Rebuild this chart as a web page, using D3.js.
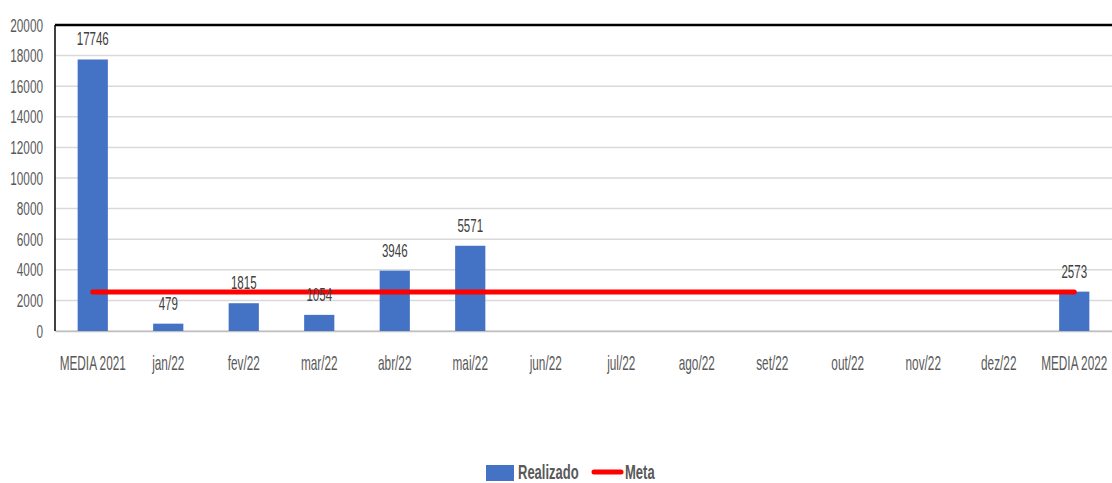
<!DOCTYPE html>
<html>
<head>
<meta charset="utf-8">
<script src="https://cdn.jsdelivr.net/npm/d3@7"></script>
<style>
  body { margin: 0; background: #fff; }
  text { font-family: "Liberation Sans", Arial, sans-serif; }
</style>
</head>
<body>
<svg id="chart" width="1112" height="483"></svg>
<script>
// data
var categories = ["MEDIA 2021", "jan/22", "fev/22", "mar/22", "abr/22", "mai/22", "jun/22",
  "jul/22", "ago/22", "set/22", "out/22", "nov/22", "dez/22", "MEDIA 2022"];
var realizado = [17746, 479, 1815, 1054, 3946, 5571, null, null, null, null, null, null, null, 2573];
var meta = [2550, 2550, 2550, 2550, 2550, 2550, 2550, 2550, 2550, 2550, 2550, 2550, 2550, 2550];
var yTicks = [0, 2000, 4000, 6000, 8000, 10000, 12000, 14000, 16000, 18000, 20000];

var margin = {top: 25, right: 0, bottom: 152, left: 55},
  width = 1112 - margin.left - margin.right,
  height = 483 - margin.top - margin.bottom;

// narrow the text horizontally around its anchor (no condensed font installed)
function condense(sel, k) {
  sel.each(function() {
    var t = d3.select(this),
      xx = +t.attr("x") || 0;
    t.attr("x", 0).attr("transform", "translate(" + xx + ",0) scale(" + k + ",1)");
  });
}

var svg = d3.select("#chart");
var g = svg.append("g")
  .attr("transform", "translate(" + margin.left + "," + margin.top + ")");

var x = d3.scaleBand().domain(categories).range([0, width]).paddingInner(0.6).paddingOuter(0.3),
    y = d3.scaleLinear().domain([0, 20000]).range([height, 0]);

// gridlines
g.selectAll(".grid")
    .data(yTicks)
  .enter().append("line")
    .attr("x1", 0).attr("x2", width)
    .attr("y1", function(d) { return y(d); })
    .attr("y2", function(d) { return y(d); })
    .attr("stroke", "#d9d9d9")
    .attr("stroke-width", 1.5);

// y axis labels
var yAxis = g.append("g")
  .call(d3.axisLeft(y).tickValues(yTicks).tickFormat(d3.format("d")).tickSize(0).tickPadding(12));
yAxis.select(".domain").remove();
yAxis.selectAll("text")
  .attr("fill", "#595959")
  .style("font-size", "19px")
  .call(condense, 0.62);

// x axis labels
var xAxis = g.append("g")
  .attr("transform", "translate(0," + height + ")")
  .call(d3.axisBottom(x).tickSize(0).tickPadding(25));
xAxis.select(".domain").attr("stroke", "#bfbfbf").attr("stroke-width", 1.5);
xAxis.selectAll("text")
  .attr("fill", "#595959")
  .style("font-size", "20px")
  .call(condense, 0.59);

// frame lines (top and left)
g.append("line").attr("x1", 0).attr("x2", width).attr("y1", 0).attr("y2", 0)
  .attr("stroke", "#000").attr("stroke-width", 2.5);
g.append("line").attr("x1", 0).attr("x2", 0).attr("y1", 0).attr("y2", height)
  .attr("stroke", "#000").attr("stroke-width", 1.5);

var barData = categories.map(function(c, i) { return {cat: c, val: realizado[i]}; })
  .filter(function(d) { return d.val != null; });

// bars
g.selectAll(".bar")
    .data(barData)
  .enter().append("rect")
    .attr("class", "bar")
    .attr("x", function(d) { return x(d.cat); })
    .attr("y", function(d) { return y(d.val); })
    .attr("width", x.bandwidth())
    .attr("height", function(d) { return height - y(d.val); })
    .attr("fill", "#4472c4");

// meta line
var line = d3.line()
  .x(function(d, i) { return x(categories[i]) + x.bandwidth() / 2; })
  .y(function(d) { return y(d); });
g.append("path")
  .datum(meta)
  .attr("d", line)
  .attr("fill", "none")
  .attr("stroke", "#ff0000")
  .attr("stroke-width", 5)
  .attr("stroke-linecap", "round");

// data labels
g.selectAll(".lbl")
    .data(barData)
  .enter().append("text")
    .attr("x", function(d) { return x(d.cat) + x.bandwidth() / 2; })
    .attr("y", function(d) { return y(d.val) - 14; })
    .attr("text-anchor", "middle")
    .attr("fill", "#404040")
    .style("font-size", "18px")
    .text(function(d) { return d.val; })
    .call(condense, 0.64);

// legend
var leg = svg.append("g").attr("transform", "translate(486,472)");
leg.append("rect").attr("x", 0).attr("y", -7).attr("width", 28).attr("height", 16).attr("fill", "#4472c4");
leg.append("text").attr("x", 32).attr("y", 7).attr("fill", "#595959")
  .style("font-size", "20px").style("font-weight", "bold").text("Realizado")
  .call(condense, 0.65);
leg.append("line").attr("x1", 108).attr("x2", 135).attr("y1", 0).attr("y2", 0)
  .attr("stroke", "#ff0000").attr("stroke-width", 5).attr("stroke-linecap", "round");
leg.append("text").attr("x", 139).attr("y", 7).attr("fill", "#595959")
  .style("font-size", "20px").style("font-weight", "bold").text("Meta")
  .call(condense, 0.65);
</script>
</body>
</html>
